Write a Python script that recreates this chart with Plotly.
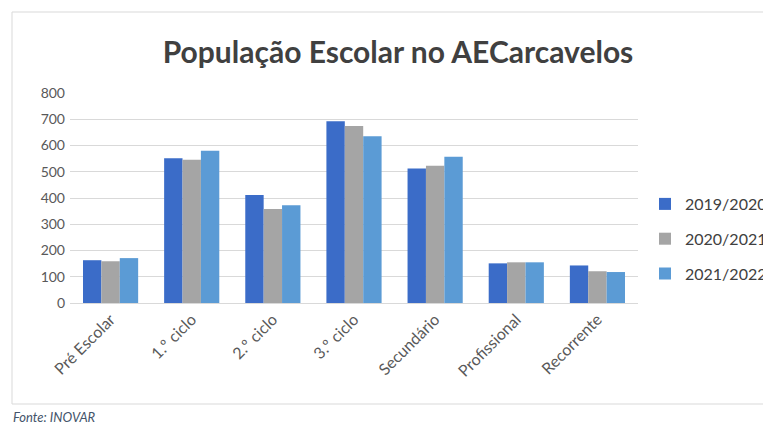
import plotly.graph_objects as go

categories = ["Pré Escolar", "1.º ciclo", "2.º ciclo", "3.º ciclo", "Secundário", "Profissional", "Recorrente"]
series_names = ["2019/2020", "2020/2021", "2021/2022"]
v2019 = [163, 551, 411, 692, 512, 151, 143]
v2020 = [159, 546, 358, 674, 523, 155, 121]
v2021 = [171, 580, 372, 635, 557, 155, 118]
y_ticks = [0, 100, 200, 300, 400, 500, 600, 700, 800]

colors = ["#3B6CC8", "#A5A5A5", "#5B9BD5"]
font_family = "Lato, 'Open Sans', sans-serif"

fig = go.Figure()
for name, vals, c in zip(series_names, [v2019, v2020, v2021], colors):
    fig.add_trace(go.Bar(x=categories, y=vals, name=name, legendgroup=name,
                         marker=dict(color=c, line=dict(width=0))))

OFF = 8  # page body margin
W, H = 771 - OFF, 425 - OFF
ml, mr, mt, mb = 70 - OFF, 133, 93 - OFF, 122
pw, ph = W - ml - mr, H - mt - mb

def px_x(x):
    return (x - OFF - ml) / pw

def px_y(y):
    return (H - mb - (y - OFF)) / ph

fig.update_layout(
    width=W, height=H,
    margin=dict(l=ml, r=mr, t=mt, b=mb, autoexpand=False),
    paper_bgcolor="white", plot_bgcolor="white",
    barmode="group", bargap=0.32, bargroupgap=0,
    font=dict(family=font_family, color="#595959", size=13),
    title=dict(text="População Escolar no AECarcavelos", x=(398 - OFF) / W, xanchor="center",
               y=1 - (52 - OFF) / H, yanchor="middle",
               font=dict(family=font_family, size=30, color="#404040", weight="bold")),
    legend=dict(x=px_x(645), y=px_y(187), xanchor="left", yanchor="top",
                font=dict(size=16, color="#404040"), itemwidth=30, tracegroupgap=11,
                bgcolor="rgba(0,0,0,0)"),
    showlegend=True,
    shapes=[dict(type="rect", xref="paper", yref="paper",
                 x0=px_x(12), x1=px_x(790), y0=px_y(404), y1=px_y(12),
                 line=dict(color="#D9D9D9", width=1), fillcolor="rgba(0,0,0,0)", layer="below")],
    annotations=[dict(text="<i>Fonte: INOVAR</i>", xref="paper", yref="paper",
                      x=px_x(11), y=px_y(417), xanchor="left", yanchor="middle",
                      showarrow=False, font=dict(size=13, color="#44546A", family=font_family))],
)
fig.update_xaxes(tickangle=-45, showgrid=False, showline=True, linecolor="#D9D9D9",
                 ticks="", tickfont=dict(size=16, color="#595959"))
fig.update_yaxes(range=[0, 800], tickvals=y_ticks, showgrid=True, gridcolor="#D9D9D9",
                 zeroline=False, ticks="", ticklabelstandoff=4,
                 tickfont=dict(size=14, color="#595959"))

fig.write_html("out.html")
